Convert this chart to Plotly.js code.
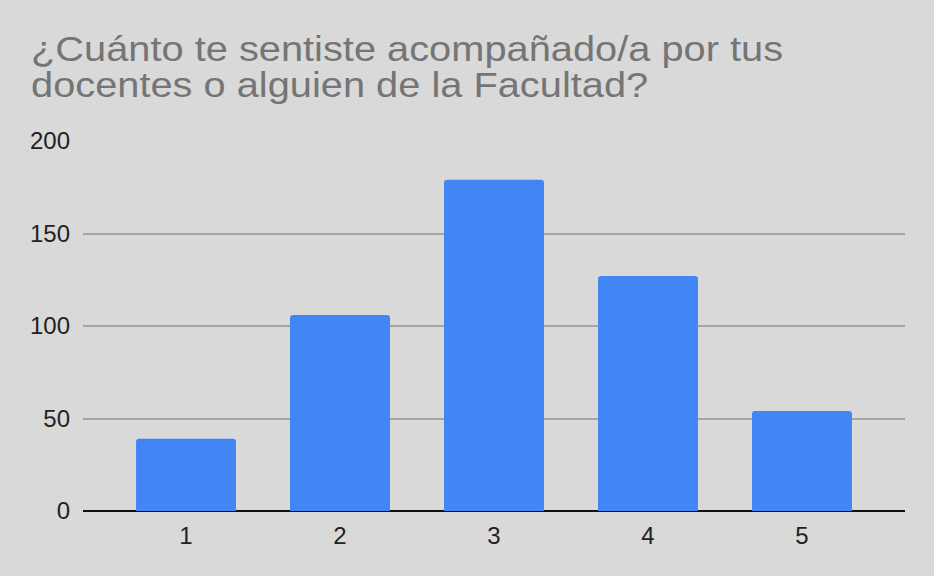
<!DOCTYPE html>
<html>
<head>
<meta charset="utf-8">
<script src="https://cdn.plot.ly/plotly-3.0.1.min.js"></script>
<style>html,body{margin:0;padding:0;background:#d9d9d9;}#chart{width:934px;height:576px;}</style>
</head>
<body>
<div id="chart"></div>
<script>
var categories = ["1", "2", "3", "4", "5"];
var counts = [39, 106, 179, 127, 54];
var yTicks = [0, 50, 100, 150, 200];
var titleLines = ["¿Cuánto te sentiste acompañado/a por tus", "docentes o alguien de la Facultad?"];

var FONT = "Liberation Sans, Arial, Helvetica, sans-serif";
var TITLE_SIZE = 35;
var PLOT_L = 83, PLOT_W = 822, PLOT_B = 511, PLOT_H = 370;
function px2x(px) { return (px - PLOT_L) / PLOT_W; }
function px2y(py) { return (PLOT_B - py) / PLOT_H; }

var trace = {
  type: "bar",
  x: categories,
  y: counts,
  marker: {color: "#4285f4", cornerradius: 3},
  hoverinfo: "none"
};

var layout = {
  width: 934,
  height: 576,
  paper_bgcolor: "#d9d9d9",
  plot_bgcolor: "#d9d9d9",
  margin: {l: 83, r: 29, t: 141, b: 65, pad: 0},
  bargap: 0.351,
  showlegend: false,
  annotations: [{
    text: titleLines.join("<br>"),
    xref: "paper", yref: "paper",
    x: px2x(29), y: px2y(28),
    xanchor: "left", yanchor: "top",
    showarrow: false,
    align: "left",
    font: {family: FONT, size: TITLE_SIZE, color: "#757575"}
  }],
  xaxis: {
    type: "category",
    range: [-0.669, 4.669],
    showgrid: false,
    zeroline: false,
    showline: false,
    ticks: "",
    ticklabelstandoff: 8,
    tickfont: {family: FONT, size: 24, color: "#222222"}
  },
  yaxis: {
    range: [0, 200],
    tickmode: "array",
    tickvals: yTicks,
    ticktext: yTicks.map(String),
    showgrid: true,
    gridcolor: "#a5a5a5",
    gridwidth: 2,
    zeroline: true,
    zerolinecolor: "#111111",
    zerolinewidth: 2,
    showline: false,
    ticks: "",
    ticklabelstandoff: 12,
    tickfont: {family: FONT, size: 24, color: "#222222"}
  }
};

Plotly.newPlot("chart", [trace], layout, {displayModeBar: false, staticPlot: true}).then(function (gd) {
  // reference title: glyphs wider than the font's natural shape, and tight leading
  var sx = 1.137;
  var el = gd.querySelector(".annotation-text");
  if (!el) return;
  var lines = el.querySelectorAll("tspan.line");
  if (lines.length > 1) lines[1].setAttribute("dy", "1.02em");
  var host = gd.getBoundingClientRect();
  var r = el.getBoundingClientRect();
  var desiredTop = 61 - 0.905 * TITLE_SIZE; // first baseline near y = 61
  var dy = desiredTop - (r.top - host.top);
  var bb = el.getBBox();
  el.setAttribute("transform",
    "translate(0," + dy + ") translate(" + bb.x + ",0) scale(" + sx + ",1) translate(" + (-bb.x) + ",0)");
});
</script>
</body>
</html>
